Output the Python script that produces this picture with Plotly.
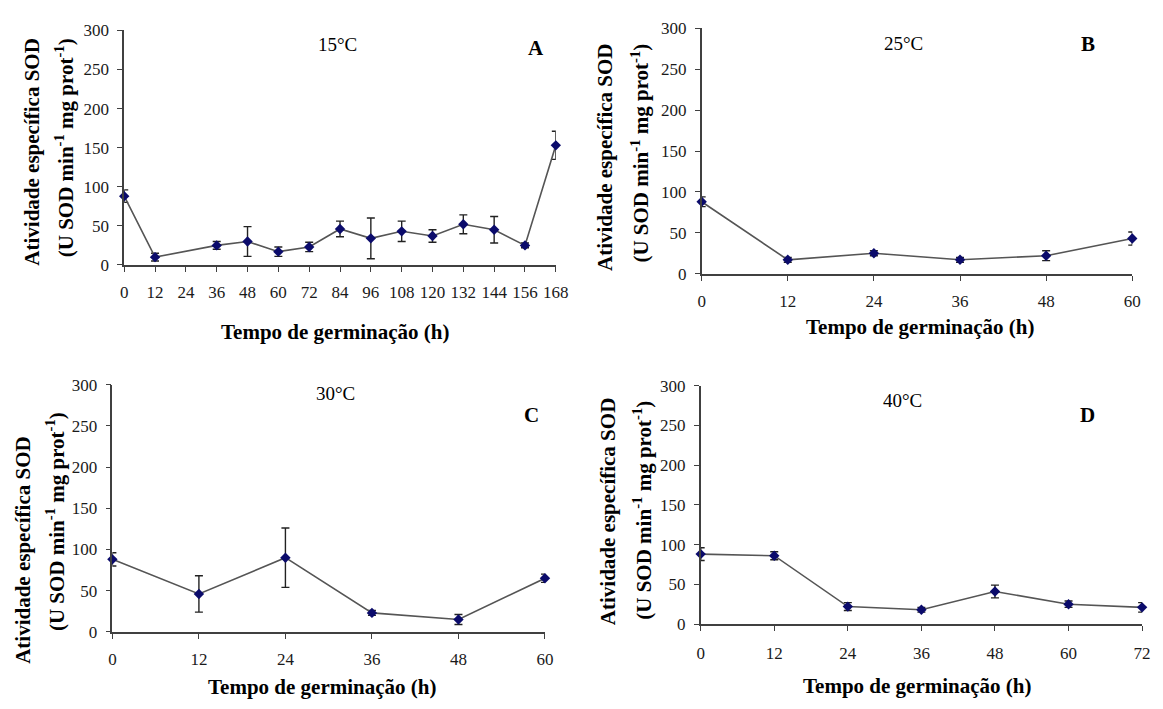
import plotly.graph_objects as go

W, H = 1163, 709

# Panel A (15°C)
a_x = [0, 12, 36, 48, 60, 72, 84, 96, 108, 120, 132, 144, 156, 168]
a_y = [88, 10, 25, 30, 17, 23, 46, 34, 43, 37, 52, 45, 25, 153]
a_err = [8, 5, 5, 19, 6, 6, 10, 26, 13, 8, 12, 17, 3, 18]
a_ticks = [0, 12, 24, 36, 48, 60, 72, 84, 96, 108, 120, 132, 144, 156, 168]

# Panel B (25°C)
b_x = [0, 12, 24, 36, 48, 60]
b_y = [88, 17, 25, 17, 22, 43]
b_err = [6, 3, 3, 3, 6, 8]

# Panel C (30°C)
c_x = [0, 12, 24, 36, 48, 60]
c_y = [88, 46, 90, 23, 15, 65]
c_err = [8, 22, 36, 3, 6, 5]

# Panel D (40°C)
d_x = [0, 12, 24, 36, 48, 60, 72]
d_y = [88, 86, 22, 18, 41, 25, 21]
d_err = [8, 5, 5, 3, 8, 4, 6]

y_ticks = [0, 50, 100, 150, 200, 250, 300]

FONT = "Liberation Serif"

fig = go.Figure()

panels = [
    dict(x=a_x, y=a_y, e=a_err, ticks=a_ticks, xr=[0, 168],
         box=(122, 560, 22, 263), temp="15°C", tpos=(338, 36), let="A", lpos=(540, 40),
         xtitle=(336, 332), yt1=(28, 147), yt2=(61, 143), xstand=6),
    dict(x=b_x, y=b_y, e=b_err, ticks=b_x, xr=[0, 60],
         box=(708, 1145, 20, 272), temp="25°C", tpos=(913, 35), let="B", lpos=(1100, 36),
         xtitle=(930, 327), yt1=(610, 153), yt2=(645, 148), xstand=6),
    dict(x=c_x, y=c_y, e=c_err, ticks=c_x, xr=[0, 60],
         box=(110, 549, 386, 640), temp="30°C", tpos=(336, 395), let="C", lpos=(535, 417),
         xtitle=(323, 697), yt1=(19, 556), yt2=(53, 527), xstand=6),
    dict(x=d_x, y=d_y, e=d_err, ticks=d_x, xr=[0, 72],
         box=(707, 1155, 387, 632), temp="40°C", tpos=(912, 402), let="D", lpos=(1100, 417),
         xtitle=(927, 696), yt1=(613, 517), yt2=(648, 515), xstand=8),
]


def ann(text, px, py, size, angle=0):
    return dict(text=text, x=px / W, y=1 - py / H, xref="paper", yref="paper",
                xanchor="center", yanchor="middle", showarrow=False, textangle=angle,
                font=dict(family=FONT, size=size, color="black"))


annotations = []
for i, p in enumerate(panels, start=1):
    xa = "x" if i == 1 else f"x{i}"
    ya = "y" if i == 1 else f"y{i}"
    fig.add_trace(go.Scatter(
        x=p["x"], y=p["y"], xaxis=xa, yaxis=ya, mode="lines+markers",
        line=dict(color="#555555", width=1.6),
        marker=dict(symbol="diamond", size=8, color="#0b0b6b"),
        error_y=dict(type="data", array=p["e"], visible=True, color="#222222",
                     thickness=1.4, width=4),
        cliponaxis=False, showlegend=False,
    ))
    x0, x1, yt, yb = p["box"]
    axx = dict(domain=[x0 / W, x1 / W], range=p["xr"], anchor=ya,
               tickmode="array", tickvals=p["ticks"], ticks="outside", ticklen=5,
               ticklabelstandoff=p["xstand"],
               tickcolor="#404040", showline=True, linecolor="#404040", linewidth=1.6,
               showgrid=False, zeroline=False,
               tickfont=dict(family=FONT, size=17, color="#1a1a1a"))
    axy = dict(domain=[1 - yb / H, 1 - yt / H], range=[0, 300], anchor=xa,
               tickmode="array", tickvals=y_ticks, ticks="outside", ticklen=5,
               ticklabelstandoff=5,
               tickcolor="#404040", showline=True, linecolor="#404040", linewidth=1.6,
               showgrid=False, zeroline=False,
               tickfont=dict(family=FONT, size=17, color="#1a1a1a"))
    key = "xaxis" if i == 1 else f"xaxis{i}"
    keyy = "yaxis" if i == 1 else f"yaxis{i}"
    fig.layout[key] = axx
    fig.layout[keyy] = axy

    annotations.append(ann("<b>Tempo de germinação (h)</b>", p["xtitle"][0], p["xtitle"][1], 21))
    annotations.append(ann("<b>Atividade específica SOD</b>", p["yt1"][0], p["yt1"][1], 21, -90))
    annotations.append(ann("<b>(U SOD min<sup>-1</sup> mg prot<sup>-1</sup>)</b>",
                           p["yt2"][0], p["yt2"][1], 21, -90))
    annotations.append(ann(p["temp"], p["tpos"][0], p["tpos"][1], 19))
    annotations.append(ann("<b>" + p["let"] + "</b>", p["lpos"][0], p["lpos"][1], 21))

fig.update_layout(width=W, height=H, margin=dict(l=0, r=0, t=0, b=0),
                  paper_bgcolor="white", plot_bgcolor="white",
                  annotations=annotations, showlegend=False)

fig.write_html("out.html")
